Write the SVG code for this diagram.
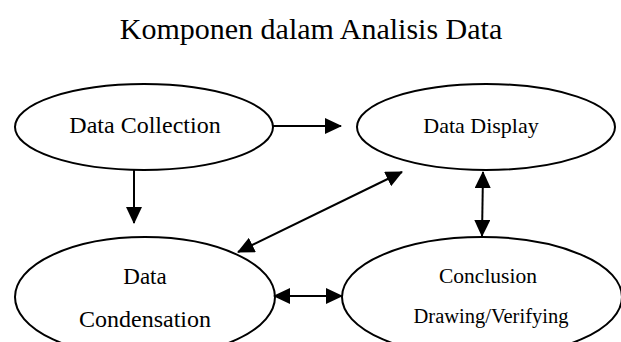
<svg xmlns="http://www.w3.org/2000/svg" width="621" height="342" viewBox="0 0 621 342">
  <style>
    .node { fill: #ffffff; stroke: #000000; stroke-width: 2; }
    .lbl { font-family: "Liberation Serif", "Times New Roman", serif; fill: #000000; text-anchor: middle; }
    .edge { stroke: #000000; stroke-width: 2; fill: none; }
  </style>
  <defs>
    <marker id="arrow" markerUnits="userSpaceOnUse" viewBox="0 0 17 16" refX="16" refY="8" markerWidth="17" markerHeight="16" orient="auto-start-reverse">
      <polygon points="0,0 17,8 0,16" fill="#000000"/>
    </marker>
  </defs>
  <rect width="621" height="342" fill="#ffffff"/>
  <text class="lbl" x="311" y="39" font-size="30">Komponen dalam Analisis Data</text>

  <g id="node-collection">
    <ellipse class="node" cx="144" cy="127" rx="129" ry="43"/>
    <text class="lbl" x="145" y="133" font-size="24">Data Collection</text>
  </g>
  <g id="node-display">
    <ellipse class="node" cx="486" cy="127" rx="129" ry="43"/>
    <text class="lbl" x="481" y="133" font-size="22">Data Display</text>
  </g>
  <g id="node-condensation">
    <ellipse class="node" cx="145" cy="297" rx="130" ry="60"/>
    <text class="lbl" x="145" y="284" font-size="23">Data</text>
    <text class="lbl" x="145" y="327" font-size="24">Condensation</text>
  </g>
  <g id="node-conclusion">
    <ellipse class="node" cx="482" cy="297" rx="140" ry="60"/>
    <text class="lbl" x="488" y="283" font-size="21.5">Conclusion</text>
    <text class="lbl" x="491" y="323" font-size="20.5">Drawing/Verifying</text>
  </g>

  <g id="connectors">
    <line class="edge" x1="273" y1="126" x2="341" y2="126" marker-end="url(#arrow)"/>
    <line class="edge" x1="134" y1="170" x2="134" y2="223" marker-end="url(#arrow)"/>
    <line class="edge" x1="238" y1="252" x2="402" y2="172" marker-start="url(#arrow)" marker-end="url(#arrow)"/>
    <line class="edge" x1="483" y1="172" x2="482" y2="236" marker-start="url(#arrow)" marker-end="url(#arrow)"/>
    <line class="edge" x1="274" y1="296" x2="342" y2="296" marker-start="url(#arrow)" marker-end="url(#arrow)"/>
  </g>
</svg>
